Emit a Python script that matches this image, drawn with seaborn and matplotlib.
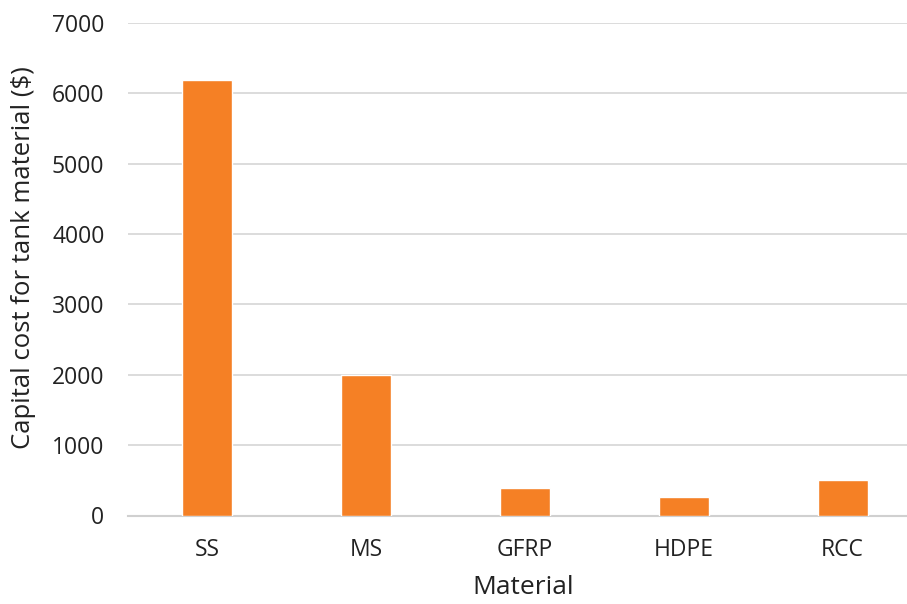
import pandas as pd
import matplotlib
matplotlib.use("Agg")
import matplotlib.pyplot as plt
import seaborn as sns

materials = ["SS", "MS", "GFRP", "HDPE", "RCC"]
capital_cost = [6190, 2000, 390, 270, 510]
y_ticks = [0, 1000, 2000, 3000, 4000, 5000, 6000, 7000]

df = pd.DataFrame({"material": materials, "cost": capital_cost})

sns.set_theme(style="white")
plt.rcParams["font.family"] = ["Open Sans", "DejaVu Sans"]

fig = plt.figure(figsize=(9.07, 6.04), dpi=100)
ax = fig.add_axes([128 / 907, 1 - 515.5 / 604, 1 - 128 / 907, (515.5 - 23) / 604])

sns.barplot(data=df, x="material", y="cost", color="#F58025", saturation=1,
            width=0.315, ax=ax, zorder=3)

ax.set_ylim(0, 7000)
ax.set_xlim(-0.5, 4.406)
ax.set_yticks(y_ticks)
ax.grid(axis="y", color="#D9D9D9", linewidth=1.3, zorder=0)
for side in ["top", "right", "left"]:
    ax.spines[side].set_visible(False)
ax.spines["bottom"].set_color("#D0D0D0")
ax.spines["bottom"].set_linewidth(1.5)
ax.tick_params(axis="both", length=0, labelsize=16.5, colors="#222222")
ax.tick_params(axis="y", pad=17)
ax.tick_params(axis="x", pad=16)

ax.set_xlabel("Material", fontsize=19, color="#222222")
ax.set_ylabel("Capital cost for tank material ($)", fontsize=18.5, color="#222222")
# put the axis titles where the reference has them
ax.xaxis.set_label_coords((523 - 128) / 779, -(587 - 515.5) / 492.5)
ax.xaxis.label.set_va("center")
ax.yaxis.set_label_coords((24 - 128) / 779, (515.5 - 258) / 492.5)
ax.yaxis.label.set_va("center")

fig.savefig("out.png", dpi=100)
